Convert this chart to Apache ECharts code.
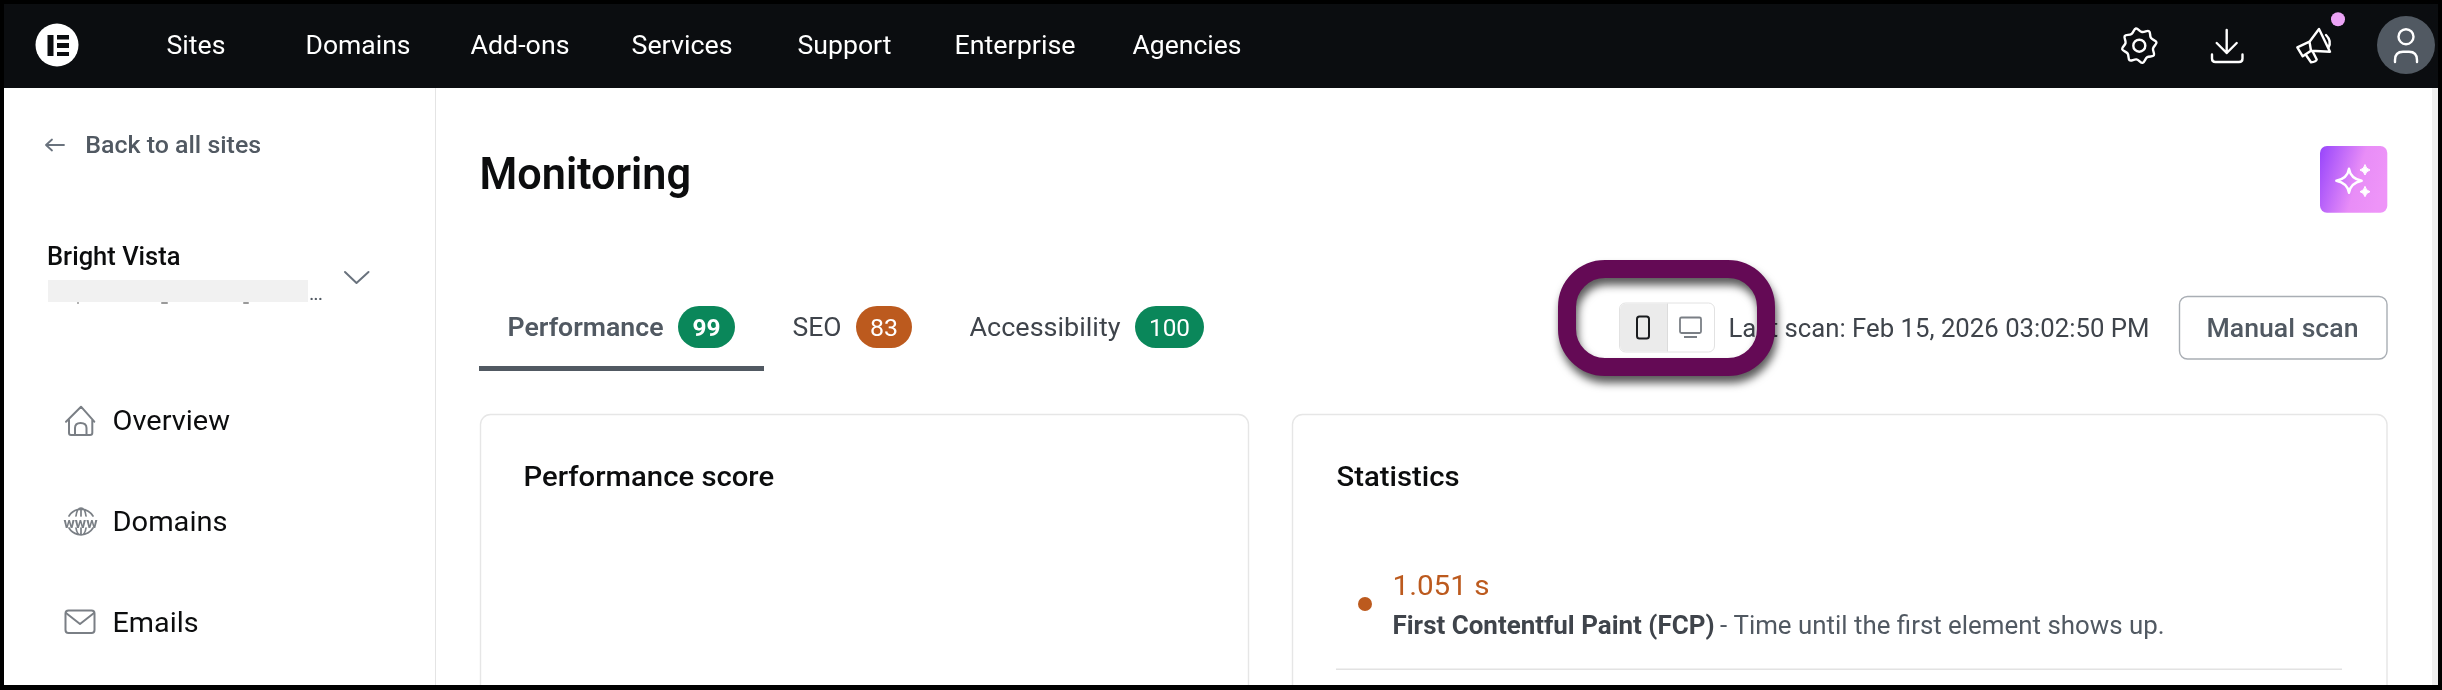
<!DOCTYPE html>
<html lang="en" style="height: 100%">
<head>
    <meta charset="utf-8">
</head>
<body style="height: 100%; margin: 0; background: #000">
<div id="container" style="width: 2442px; height: 690px"></div>

<script type="text/javascript" src="https://cdn.jsdelivr.net/npm/echarts@6/dist/echarts.min.js"></script>
<script type="text/javascript">
    // page content
    var navItems = ['Sites', 'Domains', 'Add-ons', 'Services', 'Support', 'Enterprise', 'Agencies'];
    var sideItems = ['Overview', 'Domains', 'Emails'];
    var tabNames = ['Performance', 'SEO', 'Accessibility'];
    var tabScores = [99, 83, 100];
    var cardTitles = ['Performance score', 'Statistics'];
    var backLabel = 'Back to all sites';
    var pageTitle = 'Monitoring';
    var siteName = 'Bright Vista';
    var lastScan = 'Last scan: Feb 15, 2026 03:02:50 PM';
    var scanButton = 'Manual scan';
    var statValue = '1.051 s';
    var statName = 'First Contentful Paint (FCP)';
    var statNote = ' - Time until the first element shows up.';

    // layout, x start / x end of each text
    var navX = [[167, 225], [306, 410], [471, 569], [632, 732], [798, 891], [955, 1075], [1133, 1241]];
    var sideX = [[113, 229.5], [113, 227], [113, 198]];
    var sideBase = [429, 530, 631];
    var tabX = [[508, 663], [793, 841], [970, 1120]];
    var badgeX = [[678, 735], [856, 912], [1135, 1204]];
    var badgeColor = ['#0a875a', '#bc5a1e', '#0a875a'];

    var ORANGE = '#bc5a1e', SLATE = '#515962', INK = '#0c0d0e', ICON = '#7a7f85';

    var measure = document.createElement('canvas').getContext('2d');
    var items = [];
    var pathCount = 0;

    function rect(x0, y0, x1, y1, fill, r, extra) {
        var style = Object.assign({fill: fill}, extra || {});
        items.push({type: 'rect', silent: true, shape: {x: x0, y: y0, width: x1 - x0, height: y1 - y0, r: r || 0}, style: style});
    }
    function circle(cx, cy, r, style) {
        items.push({type: 'circle', silent: true, shape: {cx: cx, cy: cy, r: r}, style: style});
    }
    // the graphic component has no plain path type, so every icon path gets its own shape class
    function path(d, stroke, lw, fill) {
        var name = 'iconPath' + (pathCount++);
        echarts.graphic.registerShape(name, echarts.graphic.extendPath(d, {}));
        items.push({
            type: name, silent: true,
            style: {fill: fill || 'none', stroke: stroke, lineWidth: lw, lineCap: 'round', lineJoin: 'round'}
        });
    }
    // text stretched to the width it has in the picture (the page uses letter spacing)
    function label(text, x0, x1, base, size, weight, color) {
        var font = weight + ' ' + size + 'px Roboto';
        measure.font = font;
        measure.textBaseline = 'middle';
        var mid = measure.measureText('x').actualBoundingBoxDescent;
        measure.textBaseline = 'alphabetic';
        var m = measure.measureText('x').actualBoundingBoxDescent;
        var w = measure.measureText(text).width;
        // the x values are ink edges, glyph boxes are a little wider
        var pad = 0.5;
        items.push({
            type: 'text', silent: true, x: x0 - pad, y: base + 0.8 - (mid - m), scaleX: (x1 - x0 + 2 * pad) / w,
            style: {text: text, font: font, fill: color, align: 'left', verticalAlign: 'middle'}
        });
    }

    // page + header
    rect(4, 88, 2438, 690, '#ffffff');
    rect(4, 4, 2438, 88, '#0b0d10');
    rect(2432, 88, 2438, 690, '#efefef');
    rect(435, 88, 436, 690, '#e4e4e4');

    // logo
    circle(57, 45, 21.5, {fill: '#ffffff'});
    rect(47.5, 35, 53.5, 56, '#0b0d10');
    rect(57, 35, 69, 39.5, '#0b0d10');
    rect(57, 43, 69, 48, '#0b0d10');
    rect(57, 52, 69, 56, '#0b0d10');

    navItems.forEach(function (name, i) {
        label(name, navX[i][0], navX[i][1], 53, 25, 400, '#ffffff');
    });

    // gear
    var gear = [];
    for (var i = 0; i < 16; i++) {
        var a = (i - 0.5) * Math.PI / 8;
        var r = i % 2 === 0 ? 17.5 : 14;
        gear.push([2139.3 + r * Math.cos(a), 45.7 + r * Math.sin(a)]);
    }
    items.push({type: 'polygon', silent: true, shape: {points: gear, smooth: 0.4}, style: {fill: 'none', stroke: '#fff', lineWidth: 2.4}});
    circle(2139.3, 45.7, 6, {fill: 'none', stroke: '#fff', lineWidth: 2.4});

    // download
    path('M2226.7 30V53M2216.7 43L2226.7 53L2236.7 43', '#fff', 2.4);
    path('M2212 54.5V58.5Q2212 62 2215.5 62H2239Q2242.5 62 2242.5 58.5V54.5', '#fff', 2.4);

    // megaphone
    path('M2309.5 41.7L2319 29L2330 51.7L2311 50.7ZM2309.5 41.7L2297.3 47.3L2302.7 56.3L2311 50.7', '#fff', 2.4);
    path('M2306 55L2311 62.3Q2316 62 2316.7 59.5L2312.7 51.5', '#fff', 2.4);
    path('M2326 35Q2332 41 2328.5 47.5', '#fff', 2.4);
    circle(2338, 19.3, 7, {fill: '#eba3f5'});

    // avatar
    circle(2406, 45, 29, {fill: SLATE});
    circle(2406, 36.7, 7.5, {fill: 'none', stroke: '#fff', lineWidth: 2.4});
    path('M2395 62V60Q2395 51.7 2403 51.7H2409Q2417 51.7 2417 60V62', '#fff', 2.4);

    // side bar
    path('M46 145H64M46 145L52 139.5M46 145L52 150.5', '#69727d', 1.8);
    label(backLabel, 85.7, 260.6, 152, 23, 500, SLATE);
    label(siteName, 47.5, 180, 264, 25, 500, INK);
    rect(48, 280, 308, 302, '#f1f1f1');
    label('...', 310, 322, 299, 14, 700, SLATE);
    path('M345 272L356.5 283L368.5 272', '#69727d', 2);
    rect(77, 302, 79, 304, '#9a9a9a', 1);
    rect(161, 302, 168, 304, '#9a9a9a', 1);
    rect(243, 302, 249, 304, '#9a9a9a', 1);

    sideItems.forEach(function (name, i) {
        label(name, sideX[i][0], sideX[i][1], sideBase[i], 27, 400, INK);
    });
    // home
    path('M66 421.7L81 406.7L94.3 421.7M69 420V433Q69 435 71 435H90Q92.3 435 92.3 433V420M75 435V428Q75 423 80.5 423Q86.5 423 86.5 428V435', ICON, 2);
    // www
    path('M69 516A14 14 0 0 1 93 516M76 516Q77 508 81 508Q85 508 86 516M81 508V516', ICON, 1.7);
    path('M69 528A14 14 0 0 0 93 528M76 528Q77 535 81 535Q85 535 86 528M81 528V535', ICON, 1.7);
    label('www', 64, 97, 527, 14, 700, ICON);
    // mail
    rect(65.5, 610.5, 94.5, 633, 'none', 3, {stroke: ICON, lineWidth: 2});
    path('M66 613L80 624L94 613', ICON, 2);

    // heading
    label(pageTitle, 480, 690.5, 188, 44, 600, INK);
    rect(2320, 146, 2387.3, 212.7, {
        type: 'linear', x: 0, y: 0.1, x2: 1, y2: 0.4,
        colorStops: [{offset: 0, color: '#9a48fb'}, {offset: 0.62, color: '#e88df7'}, {offset: 1, color: '#ee94f8'}]
    }, 7);
    path('M2349 168.7Q2350.5 178.5 2361.7 180.7Q2350.5 183 2349 192.7Q2347.5 183 2336.3 180.7Q2347.5 178.5 2349 168.7Z', '#fff', 2.4);
    path('M2365 165Q2366 169 2370 170Q2366 171 2365 175Q2364 171 2360 170Q2364 169 2365 165Z', '#fff', 1, '#fff');
    path('M2365 186.7Q2366 190.7 2370 191.7Q2366 192.7 2365 196.7Q2364 192.7 2360 191.7Q2364 190.7 2365 186.7Z', '#fff', 1, '#fff');

    // tabs
    tabNames.forEach(function (name, i) {
        label(name, tabX[i][0], tabX[i][1], 335.5, 25, i === 0 ? 600 : 400, i === 0 ? SLATE : '#3f444b');
        rect(badgeX[i][0], 306, badgeX[i][1], 348, badgeColor[i], 21);
        var mid = (badgeX[i][0] + badgeX[i][1]) / 2;
        var half = String(tabScores[i]).length === 3 ? 20 : 13.5;
        label(String(tabScores[i]), mid - half, mid + half, 335.5, 24, i === 0 ? 700 : 400, '#ffffff');
    });
    rect(479, 366, 764, 371, SLATE);

    // scan controls
    rect(1619.5, 303, 1714.5, 352, '#ffffff', 6, {stroke: '#e2e2e2', lineWidth: 1});
    rect(1620, 303.5, 1667, 351.5, '#ebebeb', [6, 0, 0, 6]);
    rect(1667, 303.5, 1668, 351.5, '#dcdcdc');
    rect(1637, 316.5, 1649, 338.5, 'none', 2.5, {stroke: '#1a1c1f', lineWidth: 2});
    rect(1680, 317.5, 1701, 333, 'none', 1.5, {stroke: ICON, lineWidth: 1.8});
    rect(1684, 336, 1697, 338, ICON);
    label(lastScan, 1729, 2149, 336, 25, 400, '#3f444b');
    rect(2179.5, 296.5, 2387, 359, '#ffffff', 8, {stroke: '#a9aeb4', lineWidth: 1.4});
    label(scanButton, 2207, 2358, 336, 25, 500, SLATE);

    // cards
    rect(480.5, 414.5, 1248.5, 720, '#ffffff', 10, {stroke: '#e6e6e6', lineWidth: 1.4});
    rect(1292.5, 414.5, 2387, 720, '#ffffff', 10, {stroke: '#e6e6e6', lineWidth: 1.4});
    label(cardTitles[0], 524, 773.6, 485, 27, 500, INK);
    label(cardTitles[1], 1337, 1459, 485, 27, 500, INK);
    circle(1365, 604, 7, {fill: ORANGE});
    label(statValue, 1393, 1489, 594, 28, 400, ORANGE);
    label(statName, 1393, 1714, 633, 25, 700, '#3f444b');
    label(statNote, 1714, 2164, 633, 25, 400, SLATE);
    rect(1336, 668.5, 2342, 670, '#e2e2e2');

    // highlight ring, sits over the scan text
    rect(1567, 269, 1766, 367, 'none', 38, {
        stroke: '#640a55', lineWidth: 18,
        shadowBlur: 9, shadowColor: 'rgba(0,0,0,0.65)', shadowOffsetX: 2, shadowOffsetY: 7
    });

    // screenshot frame
    rect(0, 0, 2442, 4, '#000');
    rect(0, 685, 2442, 690, '#000');
    rect(0, 0, 4, 690, '#000');
    rect(2438, 0, 2442, 690, '#000');

    var dom = document.getElementById('container');
    var myChart = echarts.init(dom, null, {renderer: 'canvas'});
    myChart.setOption({
        backgroundColor: '#000',
        animation: false,
        graphic: {elements: items}
    });
</script>
</body>
</html>
